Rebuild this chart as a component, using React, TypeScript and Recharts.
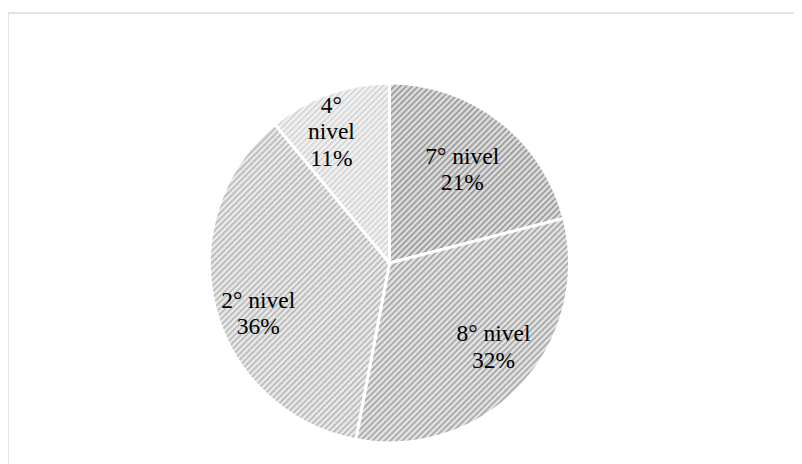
import React from 'react';
import { PieChart, Pie, Cell } from 'recharts';

const categories = ['7° nivel', '8° nivel', '2° nivel', '4° nivel'];
const values = [21, 32, 36, 11];
const percentLabels = ['21%', '32%', '36%', '11%'];

const data = categories.map((name, i) => ({ name, value: values[i], pct: percentLabels[i] }));

const patterns = [
  { id: 'p7', bg: '#dedede', fg: '#9e9e9e' },
  { id: 'p8', bg: '#e4e4e4', fg: '#ababab' },
  { id: 'p2', bg: '#eaeaea', fg: '#bcbcbc' },
  { id: 'p4', bg: '#f2f2f2', fg: '#d6d6d6' },
];

const RAD = Math.PI / 180;
const labelRadius = [0.66, 0.74, 0.78, 0.8];
const labelAngleShift = [0, 4.5, 6.4, 4];

const renderLabel = (props: any) => {
  const { cx, cy, midAngle, outerRadius, index } = props;
  const r = outerRadius * labelRadius[index];
  const a = (midAngle + labelAngleShift[index]) * RAD;
  const x = cx + r * Math.cos(a);
  const y = cy - r * Math.sin(a);
  const entry = data[index];
  const lines = index === 3 ? ['4°', 'nivel', entry.pct] : [entry.name, entry.pct];
  const lh = 26.5;
  const startY = y - ((lines.length - 1) * lh) / 2;
  return (
    <text
      x={x}
      y={startY}
      textAnchor="middle"
      dominantBaseline="central"
      fill="#000"
      style={{ fontFamily: "'Liberation Serif', 'Times New Roman', serif", fontSize: 23.5 }}
    >
      {lines.map((l, i) => (
        <tspan key={i} x={x} y={startY + i * lh}>
          {l}
        </tspan>
      ))}
    </text>
  );
};

export default function App() {
  return (
    <div style={{ position: 'relative', width: 794, height: 456 }}>
      <div
        style={{
          position: 'absolute',
          left: -1,
          top: 4,
          right: 0,
          bottom: 0,
          borderTop: '2px solid #e2e2e2',
          borderLeft: '2px solid #e2e2e2',
          boxSizing: 'border-box',
        }}
      />
      <div style={{ position: 'absolute', left: 0, top: 0 }}>
        <PieChart width={794} height={456} margin={{ top: 0, right: 0, bottom: 0, left: 0 }}>
          <defs>
            {patterns.map((p) => (
              <pattern
                key={p.id}
                id={p.id}
                width={4.2}
                height={4.2}
                patternUnits="userSpaceOnUse"
                patternTransform="rotate(45)"
              >
                <rect width={4.2} height={4.2} fill={p.bg} />
                <rect width={1.9} height={4.2} fill={p.fg} />
              </pattern>
            ))}
          </defs>
          <Pie
            data={data}
            dataKey="value"
            nameKey="name"
            cx={381.5}
            cy={255}
            outerRadius={180}
            startAngle={90}
            endAngle={-270}
            stroke="#ffffff"
            strokeWidth={3}
            label={renderLabel}
            labelLine={false}
            isAnimationActive={false}
          >
            {data.map((d, i) => (
              <Cell key={d.name} fill={`url(#${patterns[i].id})`} />
            ))}
          </Pie>
        </PieChart>
      </div>
    </div>
  );
}
